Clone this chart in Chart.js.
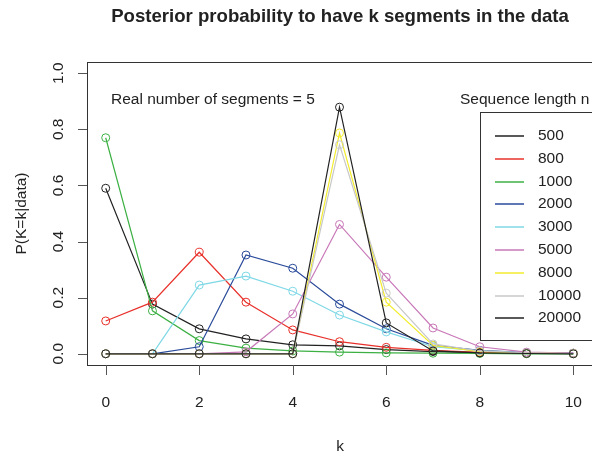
<!DOCTYPE html>
<html>
<head>
<meta charset="utf-8">
<script src="https://cdn.jsdelivr.net/npm/chart.js@4"></script>
<style>
  html, body { margin: 0; padding: 0; background: #fff; }
  #wrap { width: 592px; height: 459px; position: relative; }
</style>
</head>
<body>
<div id="wrap"><canvas id="chart"></canvas></div>
<script>
// k values and posterior probabilities
const kValues = [0, 1, 2, 3, 4, 5, 6, 7, 8, 9, 10];
const xTicks = [0, 2, 4, 6, 8, 10];
const yTicks = [0, 0.2, 0.4, 0.6, 0.8, 1.0];

const seqLengths = ['500', '800', '1000', '2000', '3000', '5000', '8000', '10000', '20000'];
const seriesColors = ['#222222', '#e8302a', '#3cb043', '#2a4b9a', '#7fd8e6', '#c878b8', '#f2ec2e', '#c8c8c8', '#222222'];

const p500   = [0.59, 0.177, 0.089, 0.053, 0.032, 0.028, 0.015, 0.008, 0.004, 0.002, 0.001];
const p800   = [0.117, 0.184, 0.362, 0.184, 0.085, 0.043, 0.023, 0.012, 0.005, 0.002, 0.001];
const p1000  = [0.77, 0.153, 0.047, 0.02, 0.01, 0.006, 0.003, 0.002, 0.001, 0.0, 0.0];
const p2000  = [0.0, 0.0, 0.025, 0.352, 0.305, 0.177, 0.089, 0.03, 0.012, 0.004, 0.002];
const p3000  = [0.0, 0.0, 0.245, 0.277, 0.223, 0.138, 0.078, 0.025, 0.01, 0.003, 0.001];
const p5000  = [0.0, 0.0, 0.0, 0.007, 0.142, 0.461, 0.273, 0.092, 0.025, 0.006, 0.002];
const p8000  = [0.0, 0.0, 0.0, 0.0, 0.0, 0.787, 0.184, 0.03, 0.008, 0.002, 0.001];
const p10000 = [0.0, 0.0, 0.0, 0.0, 0.0, 0.745, 0.216, 0.035, 0.01, 0.003, 0.001];
const p20000 = [0.0, 0.0, 0.0, 0.0, 0.0, 0.879, 0.11, 0.01, 0.003, 0.001, 0.0];

const allSeries = [p500, p800, p1000, p2000, p3000, p5000, p8000, p10000, p20000];

const FONT = 'Liberation Sans, Arial, Helvetica, sans-serif';
Chart.defaults.font.family = FONT;
Chart.defaults.font.size = 15.5;
Chart.defaults.color = '#222';

const datasets = allSeries.map((vals, i) => ({
  label: seqLengths[i],
  data: vals.map((v, j) => ({ x: kValues[j], y: v })),
  borderColor: seriesColors[i],
  borderWidth: 1.2,
  pointRadius: 4,
  pointBorderWidth: 1,
  pointBackgroundColor: 'rgba(0,0,0,0)',
  pointBorderColor: seriesColors[i],
  tension: 0,
  order: allSeries.length - i  // later series drawn on top, like R
}));

// box, tick marks, titles, annotations and legend (R base-graphics look)
const rDecor = {
  id: 'rDecor',
  afterDraw(chart) {
    const { ctx, chartArea: a, scales } = chart;
    const xs = scales.x, ys = scales.y;
    ctx.save();

    // plot box
    ctx.strokeStyle = '#333';
    ctx.lineWidth = 1;
    ctx.strokeRect(Math.round(a.left) + 0.5, Math.round(a.top) + 0.5,
                   Math.round(a.right - a.left) + 2, Math.round(a.bottom - a.top));

    // tick marks
    ctx.strokeStyle = '#555';
    ctx.beginPath();
    xTicks.forEach(v => {
      const px = Math.round(xs.getPixelForValue(v)) + 0.5;
      ctx.moveTo(px, a.bottom); ctx.lineTo(px, a.bottom + 10);
    });
    yTicks.forEach(v => {
      const py = Math.round(ys.getPixelForValue(v)) + 0.5;
      ctx.moveTo(a.left, py); ctx.lineTo(a.left - 9, py);
    });
    ctx.stroke();

    ctx.fillStyle = '#222';
    ctx.textBaseline = 'middle';

    // main title
    ctx.font = 'bold 18.6px ' + FONT;
    ctx.textAlign = 'center';
    ctx.fillText('Posterior probability to have k segments in the data', (a.left + 593) / 2, 17);

    // axis titles
    ctx.font = '15.5px ' + FONT;
    ctx.fillText('k', (a.left + 593) / 2, 447);
    ctx.save();
    ctx.translate(22, (a.top + a.bottom) / 2);
    ctx.rotate(-Math.PI / 2);
    ctx.fillText('P(K=k|data)', 0, 0);
    ctx.restore();

    // annotations
    ctx.textAlign = 'left';
    ctx.fillText('Real number of segments = 5', 111, 100);
    ctx.fillText('Sequence length n', 460, 100);

    // legend
    ctx.strokeStyle = '#333';
    ctx.lineWidth = 1;
    ctx.strokeRect(480.5, 112.5, 130, 228);
    chart.data.datasets.forEach((ds, i) => {
      const y = Math.round(136 + i * 22.8);
      ctx.strokeStyle = ds.borderColor;
      ctx.lineWidth = 1.5;
      ctx.beginPath();
      ctx.moveTo(495, y);
      ctx.lineTo(524, y);
      ctx.stroke();
      ctx.fillStyle = '#222';
      ctx.fillText(ds.label, 538, y);
    });

    ctx.restore();
  }
};

new Chart(document.getElementById('chart'), {
  type: 'line',
  data: { datasets },
  options: {
    responsive: true,
    maintainAspectRatio: false,
    animation: false,
    layout: { autoPadding: false, padding: { top: 62, left: 0, right: 0, bottom: 0 } },
    plugins: {
      legend: { display: false },
      title: { display: false },
      tooltip: { enabled: false }
    },
    scales: {
      x: {
        type: 'linear',
        min: -0.4,
        max: 10.4,
        grid: { display: false, drawTicks: false },
        border: { display: false },
        afterBuildTicks: s => { s.ticks = xTicks.map(v => ({ value: v })); },
        afterFit: s => { s.height = 94; s.paddingLeft = 0; s.paddingRight = 0; },
        ticks: { padding: 28, font: { size: 15.5 }, color: '#222' }
      },
      y: {
        type: 'linear',
        min: -0.04,
        max: 1.04,
        grid: { display: false, drawTicks: false },
        border: { display: false },
        afterBuildTicks: s => { s.ticks = yTicks.map(v => ({ value: v })); },
        afterFit: s => { s.width = 87; s.paddingTop = 0; s.paddingBottom = 0; },
        ticks: {
          minRotation: 90,
          maxRotation: 90,
          crossAlign: 'center',
          padding: 18,
          font: { size: 15.5 },
          color: '#222',
          callback: v => v.toFixed(1)
        }
      }
    }
  },
  plugins: [rDecor]
});
</script>
</body>
</html>
